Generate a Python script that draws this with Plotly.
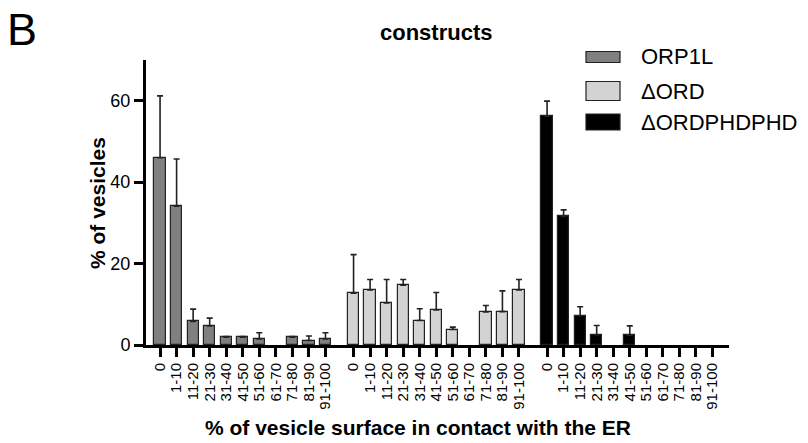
import plotly.graph_objects as go

categories = ["0", "1-10", "11-20", "21-30", "31-40", "41-50", "51-60", "61-70", "71-80", "81-90", "91-100"]
series_names = ["ORP1L", "ΔORD", "ΔORDPHDPHD"]
orp1l = [46.0, 34.1, 5.8, 4.7, 1.9, 1.9, 1.5, 0, 1.9, 1.1, 1.5]
orp1l_err = [15.2, 11.6, 3.0, 1.9, 0.2, 0.2, 1.5, 0, 0.2, 1.1, 1.5]
dord = [12.7, 13.5, 10.3, 14.7, 6.0, 8.6, 3.8, 0, 8.1, 8.2, 13.5]
dord_err = [9.5, 2.6, 5.8, 1.4, 2.9, 4.3, 0.6, 0, 1.6, 5.1, 2.6]
dordphd = [56.2, 31.6, 7.2, 2.5, 0, 2.4, 0, 0, 0, 0, 0]
dordphd_err = [3.7, 1.6, 2.2, 2.3, 0, 2.3, 0, 0, 0, 0, 0]
y_ticks = [0, 20, 40, 60]

colors = ["#808080", "#d3d3d3", "#000000"]
values = [orp1l, dord, dordphd]
errors = [orp1l_err, dord_err, dordphd_err]
group_gap = 11.7

W, H = 808, 443
PL, PR, PT, PB = 146, 729, 60, 345  # plot area in pixels


def px(x):
    return (x - PL) / (PR - PL)


def py(y):
    return (PB - y) / (PB - PT)


fig = go.Figure()
tickvals, ticktext = [], []
for g, (name, vals, errs, col) in enumerate(zip(series_names, values, errors, colors)):
    xs = [g * group_gap + i for i in range(len(categories))]
    tickvals += xs
    ticktext += categories
    yv = [v if v > 0 else None for v in vals]
    fig.add_trace(go.Bar(
        x=xs, y=yv, name=name, width=0.68,
        marker=dict(color=col, line=dict(color="#222222", width=1.2)),
        error_y=dict(type="data", array=errs, arrayminus=[0] * len(errs), symmetric=False,
                     color="#222222", thickness=1.6, width=3),
        showlegend=False,
    ))

fig.update_layout(
    width=W, height=H,
    margin=dict(l=PL, r=W - PR, t=PT, b=H - PB),
    paper_bgcolor="white", plot_bgcolor="white",
    font=dict(family="Liberation Sans, Arial, sans-serif", color="black"),
    bargap=0,
)
fig.update_xaxes(
    range=[-0.85, 34.4], tickmode="array", tickvals=tickvals, ticktext=ticktext,
    tickangle=-90, tickfont=dict(size=15), ticks="outside", ticklen=9, tickwidth=3,
    tickcolor="black", showline=True, linewidth=3, linecolor="black",
    showgrid=False, zeroline=False,
)
fig.update_yaxes(
    range=[0, 70], tickvals=y_ticks, tickfont=dict(size=18), ticks="outside",
    ticklen=9, tickwidth=3, tickcolor="black", showline=True, linewidth=3,
    linecolor="black", showgrid=False, zeroline=False,
)

ann = [
    dict(text="B", x=px(5), y=py(29), font=dict(size=45), xanchor="left", yanchor="middle"),
    dict(text="<b>constructs</b>", x=px(436), y=py(33), font=dict(size=22), xanchor="center", yanchor="middle"),
    dict(text="<b>% of vesicles</b>", x=px(97), y=py(203), font=dict(size=21), textangle=-90, xanchor="center", yanchor="middle"),
    dict(text="<b>% of vesicle surface in contact with the ER</b>", x=px(418), y=py(427), font=dict(size=21), xanchor="center", yanchor="middle"),
]
legend_rows = [(57, 11), (91, 19), (122, 16)]
shapes = []
for name, col, (yr, hh) in zip(series_names, colors, legend_rows):
    shapes.append(dict(type="rect", xref="paper", yref="paper",
                       x0=px(586), x1=px(620), y0=py(yr + hh / 2), y1=py(yr - hh / 2),
                       fillcolor=col, line=dict(color="#222222", width=1.2)))
    ann.append(dict(text=name, x=px(639), y=py(yr), font=dict(size=22), xanchor="left", yanchor="middle"))
for a in ann:
    a.update(xref="paper", yref="paper", showarrow=False)
fig.update_layout(annotations=ann, shapes=shapes)

fig.write_html("out.html", config={"displayModeBar": False},
               post_script="document.body.style.margin='0px';document.body.style.overflow='hidden';")
